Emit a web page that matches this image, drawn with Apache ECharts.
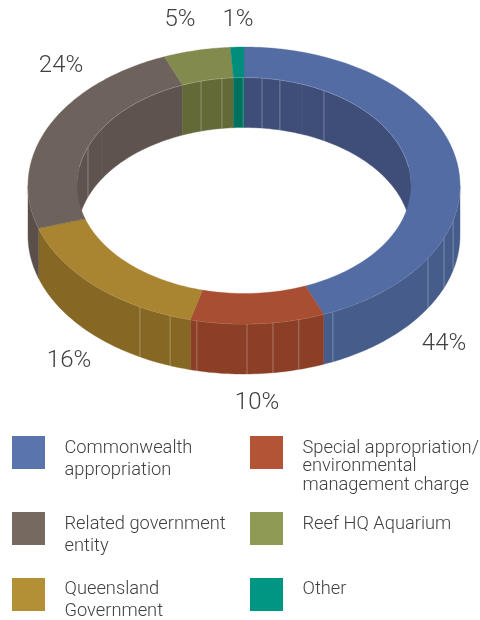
<!DOCTYPE html>
<html>
<head>
<meta charset="utf-8">
<style>html,body{margin:0;padding:0;background:#fff}#chart{width:480px;height:620px}</style>
<script src="https://cdn.jsdelivr.net/npm/echarts@6/dist/echarts.min.js"></script>
</head>
<body>
<div id="chart"></div>
<script>
// Funding sources, percentage share of revenue
const categories = ['Commonwealth appropriation', 'Special appropriation/ environmental management charge', 'Queensland Government', 'Related government entity', 'Reef HQ Aquarium', 'Other'];
const shares = [44, 10, 16, 24, 5, 1];

// Fill per face of the ring and for the legend swatches
const topColors = ['#536ca3', '#a84f33', '#a98431', '#6e625c', '#838a4d', '#008d7c'];
const outerWallColors = ['#465c8b', '#8c3f27', '#866824', '#5a4f4b', '#636a38', '#00705f'];
const innerWallColors = ['#3e4e79', '#7a3722', '#75591e', '#5e534e', '#636a38', '#00705f'];
const swatchColors = ['#5a75ae', '#b25435', '#b38f36', '#766960', '#8f9a55', '#009684'];

// Facet seams on the walls, degrees clockwise from twelve o'clock
const outerSeams = [104.5, 112.2, 121.6, 155.7, 165.3, 172.3, 179.2, 192.6, 200, 208.8];
const innerSeams = [290.9, 345.1, 352.4, 359.7, 6.2, 12.4, 28.6];
const faintInnerSeams = [301.8, 20.3];

// Ring geometry
const ring = {cx: 244, cy: 185.5, rx: 216, ry: 138.5, irx: 167, iry: 108, depth: 50};

// Percent labels
const percentLabels = ['44%', '10%', '16%', '24%', '5%', '1%'];
const percentX = [444, 257, 69, 61, 180, 238];
const percentY = [344, 403, 361, 66, 20, 20];

// Legend layout, one entry per category in reading order
const legendLines = [['Commonwealth', 'appropriation'], ['Special appropriation/', 'environmental', 'management charge'], ['Related government', 'entity'], ['Reef HQ Aquarium'], ['Queensland', 'Government'], ['Other']];
const legendColorIndex = [0, 1, 3, 4, 2, 5];
const legendSwatchX = [12, 250, 12, 250, 12, 250];
const legendSwatchY = [436, 436, 512, 512, 578, 578];
const legendTextY = [448, 448, 524.5, 524.5, 589, 589];
const legendLineGap = [22, 18.5, 21.5, 0, 22, 0];

const FONT = 'Roboto, "Liberation Sans", Arial, sans-serif';
const TEXT = '#404040';
const rad = d => d * Math.PI / 180;
const px = (a, rx) => ring.cx + rx * Math.sin(rad(a));
const py = (a, ry, dy) => ring.cy - ry * Math.cos(rad(a)) + (dy || 0);

function arc(a0, a1, rx, ry, dy) {
  const n = Math.max(2, Math.ceil(Math.abs(a1 - a0)));
  const pts = [];
  for (let i = 0; i <= n; i++) {
    const a = a0 + (a1 - a0) * i / n;
    pts.push([px(a, rx), py(a, ry, dy)]);
  }
  return pts;
}
const face = (pts, fill, z2) => ({
  type: 'polygon', z2, shape: {points: pts},
  style: {fill, stroke: fill, lineWidth: 0.4}
});
const hairline = (pts, color, z2, w) => ({
  type: 'polyline', z2, shape: {points: pts},
  style: {fill: 'none', stroke: color, lineWidth: w || 0.8}
});

// Angular extent of every slice, accumulated from the shares
const total = shares.reduce((s, v) => s + v, 0);
const starts = [];
shares.reduce((acc, v, i) => { starts[i] = acc / total * 360; return acc + v; }, 0);

function overlap(a0, a1, lo, hi) {
  return [Math.max(a0, lo), Math.min(a1, hi)];
}

function renderSlice(params, api) {
  const i = api.value(0);
  const a0 = starts[i];
  const a1 = a0 + api.value(1) / total * 360;
  const children = [];

  // Back of the hole: the inner wall faces the viewer between 270 and 450 degrees
  [[-90, 90], [270, 450]].forEach(([lo, hi]) => {
    const [s, e] = overlap(a0, a1, lo, hi);
    if (e > s) {
      children.push(face(arc(s, e, ring.irx, ring.iry).concat(arc(e, s, ring.irx, ring.iry, ring.depth)), innerWallColors[i], 1));
    }
  });
  // Front: the outer wall is visible between 90 and 270 degrees
  const [fs, fe] = overlap(a0, a1, 90, 270);
  if (fe > fs) {
    children.push(face(arc(fs, fe, ring.rx, ring.ry).concat(arc(fe, fs, ring.rx, ring.ry, ring.depth)), outerWallColors[i], 3));
    children.push(hairline(arc(fs, fe, ring.rx, ring.ry), 'rgba(255,255,255,0.35)', 4, 0.7));
  }
  // Upper face of the ring
  children.push(face(arc(a0, a1, ring.rx, ring.ry).concat(arc(a1, a0, ring.irx, ring.iry)), topColors[i], 6));
  return {type: 'group', children};
}

function renderSeams() {
  const children = [];
  outerSeams.forEach(a => children.push(hairline([[px(a, ring.rx), py(a, ring.ry)], [px(a, ring.rx), py(a, ring.ry, ring.depth)]], 'rgba(255,255,255,0.36)', 4)));
  innerSeams.forEach(a => children.push(hairline([[px(a, ring.irx), py(a, ring.iry)], [px(a, ring.irx), py(a, ring.iry, ring.depth)]], 'rgba(255,255,255,0.36)', 2)));
  faintInnerSeams.forEach(a => children.push(hairline([[px(a, ring.irx), py(a, ring.iry)], [px(a, ring.irx), py(a, ring.iry, ring.depth)]], 'rgba(255,255,255,0.08)', 2)));
  // Light rim along the back of the hole
  children.push(hairline(arc(-80, 80, ring.irx, ring.iry), 'rgba(255,255,255,0.3)', 7, 0.6));
  return {type: 'group', children};
}

const graphics = [];
percentLabels.forEach((t, i) => graphics.push({
  type: 'text', x: percentX[i], y: percentY[i], z: 10,
  style: {text: t, fill: TEXT, font: '300 24px ' + FONT, textAlign: 'center', textVerticalAlign: 'middle'}
}));
legendLines.forEach((lines, i) => {
  graphics.push({
    type: 'rect', z: 10,
    shape: {x: legendSwatchX[i], y: legendSwatchY[i], width: 33, height: 33},
    style: {fill: swatchColors[legendColorIndex[i]]}
  });
  lines.forEach((line, j) => graphics.push({
    type: 'text', z: 10, x: legendSwatchX[i] + 52.5, y: legendTextY[i] + j * legendLineGap[i],
    style: {text: line, fill: TEXT, font: '300 18.3px ' + FONT, textAlign: 'left', textVerticalAlign: 'middle'}
  }));
});

const chart = echarts.init(document.getElementById('chart'), null, {renderer: 'canvas'});
chart.setOption({
  animation: false,
  backgroundColor: '#ffffff',
  graphic: graphics,
  series: [
    {
      type: 'custom', coordinateSystem: 'none', silent: true,
      renderItem: renderSlice,
      data: categories.map((name, i) => ({name, value: [i, shares[i]]}))
    },
    {
      type: 'custom', coordinateSystem: 'none', silent: true,
      renderItem: renderSeams,
      data: [[0]]
    }
  ]
});
</script>
</body>
</html>
